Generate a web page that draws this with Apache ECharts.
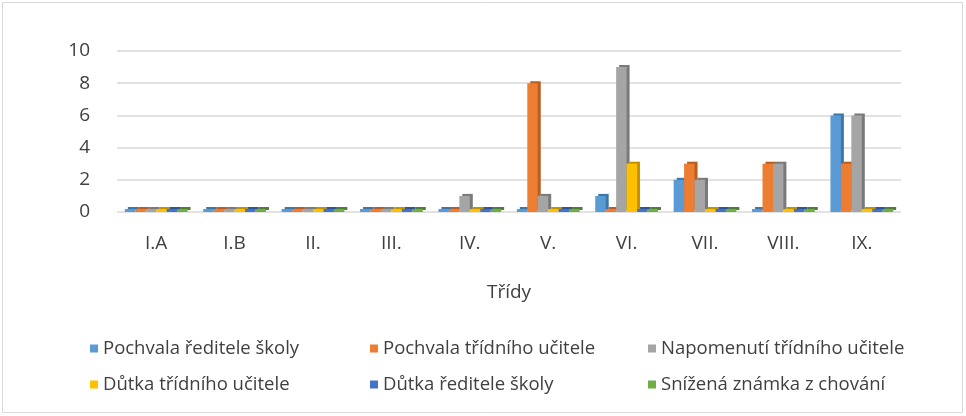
<!DOCTYPE html>
<html>
<head>
<meta charset="utf-8">
<script src="https://cdn.jsdelivr.net/npm/echarts@6/dist/echarts.min.js"></script>
<style>
html,body{margin:0;padding:0;background:#fff;}
#main{width:966px;height:416px;}
</style>
</head>
<body>
<div id="main"></div>
<script>
// data
var tridy = ['I.A', 'I.B', 'II.', 'III.', 'IV.', 'V.', 'VI.', 'VII.', 'VIII.', 'IX.'];
var nazvy = ['Pochvala ředitele školy', 'Pochvala třídního učitele', 'Napomenutí třídního učitele',
	'Důtka třídního učitele', 'Důtka ředitele školy', 'Snížená známka z chování'];
var pochvalaReditele = [0, 0, 0, 0, 0, 0, 1, 2, 0, 6];
var pochvalaTridniho = [0, 0, 0, 0, 0, 8, 0, 3, 3, 3];
var napomenuti = [0, 0, 0, 0, 1, 1, 9, 2, 3, 6];
var dutkaTridniho = [0, 0, 0, 0, 0, 0, 3, 0, 0, 0];
var dutkaReditele = [0, 0, 0, 0, 0, 0, 0, 0, 0, 0];
var snizenaZnamka = [0, 0, 0, 0, 0, 0, 0, 0, 0, 0];
var yTicks = [0, 2, 4, 6, 8, 10];

var hodnoty = [pochvalaReditele, pochvalaTridniho, napomenuti, dutkaTridniho, dutkaReditele, snizenaZnamka];
var barvy = ['#5B9BD5', '#ED7D31', '#A5A5A5', '#FFC000', '#4472C4', '#70AD47'];
var stiny = ['#3f76a8', '#b85e22', '#7a7a7a', '#c49300', '#2f5597', '#507e32'];
var font = 'Open Sans';
var barvaTextu = '#404040';

//serie
var series = [];
for (var i = 0; i < nazvy.length; i++) {
	series.push({
		name: nazvy[i],
		type: 'bar',
		data: hodnoty[i],
		barGap: '0%',
		barCategoryGap: '20%',
		barMinHeight: 3,
		itemStyle: {
			color: barvy[i],
			shadowColor: stiny[i],
			shadowOffsetX: 3,
			shadowOffsetY: -2,
			shadowBlur: 0
		}
	});
}

//legenda - 3 sloupce, 2 radky
var legendy = [];
var legX = [85, 365, 643];
var legY = [334, 370];
for (var i = 0; i < nazvy.length; i++) {
	legendy.push({
		data: [nazvy[i]],
		left: legX[i % 3],
		top: legY[Math.floor(i / 3)],
		itemWidth: 8,
		itemHeight: 8,
		itemGap: 0,
		icon: 'rect',
		selectedMode: false,
		textStyle: {fontFamily: font, fontSize: 18.5, color: barvaTextu}
	});
}

var option = {
	backgroundColor: '#fff',
	animation: false,
	textStyle: {fontFamily: font},
	grid: {left: 117, right: 65, top: 51, height: 161},
	legend: legendy,
	graphic: [{
		type: 'rect',
		shape: {x: 2.5, y: 2.5, width: 960, height: 410},
		style: {fill: 'none', stroke: '#d9d9d9', lineWidth: 1},
		silent: true
	}],
	xAxis: {
		type: 'category',
		data: tridy,
		name: 'Třídy',
		nameLocation: 'middle',
		nameGap: 71,
		nameTextStyle: {fontFamily: font, fontSize: 19, color: barvaTextu},
		axisLine: {show: false},
		axisTick: {show: false},
		axisLabel: {fontFamily: font, fontSize: 19, color: barvaTextu, margin: 22}
	},
	yAxis: {
		type: 'value',
		min: yTicks[0],
		max: yTicks[yTicks.length - 1],
		interval: 2,
		axisLine: {show: false},
		axisTick: {show: false},
		axisLabel: {fontFamily: font, fontSize: 19, color: barvaTextu, margin: 27, padding: [7, 0, 0, 0]},
		splitLine: {lineStyle: {color: '#d9d9d9', width: 1.5}}
	},
	series: series
};

var myChart = echarts.init(document.getElementById('main'));
myChart.setOption(option);
</script>
</body>
</html>
